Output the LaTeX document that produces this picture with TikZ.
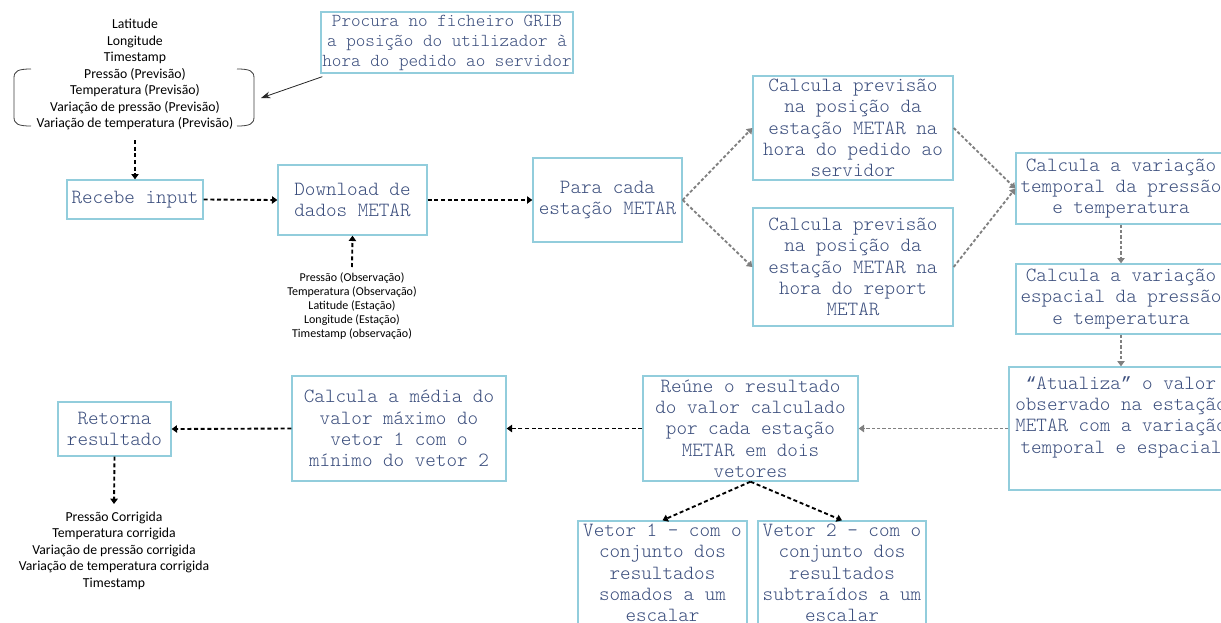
\documentclass[tikz,border=0pt]{standalone}
\usepackage{fontspec}
\usetikzlibrary{arrows.meta}
\newfontfamily\monof{Latin Modern Mono Light}
\newfontfamily\libmono{Liberation Mono}
\newfontfamily\calib{Carlito}
\definecolor{txtblue}{RGB}{59,78,125}
\definecolor{boxblue}{RGB}{146,205,220}
\definecolor{arrgray}{RGB}{128,128,128}
\tikzset{
  box/.style={draw=boxblue, line width=1pt, rectangle, inner sep=0pt, align=center,
    text=txtblue, font=\monof\fontsize{15.1}{16}\selectfont},
  smallbox/.style={box, font=\monof\fontsize{13.7}{15}\selectfont},
  lbl/.style={align=center, inner sep=0pt, text=black, font=\calib\fontsize{10.3}{12.4}\selectfont},
  lblsmall/.style={lbl, font=\calib\fontsize{9}{10.6}\selectfont},
  blk/.style={draw=black, line width=1.4pt, dash pattern=on 3pt off 2pt,
    -{Triangle[width=5.5pt,length=4pt]}},
  gry/.style={draw=arrgray, line width=1.4pt, dash pattern=on 2.4pt off 1.6pt,
    -{Triangle[width=5.5pt,length=4pt]}},
  thinarr/.style={draw=black!85, line width=0.6pt, -{Stealth[width=5pt,length=7pt]}}
}
\begin{document}
\begin{tikzpicture}[x=0.75pt,y=-0.75pt]
\useasboundingbox (0,0) rectangle (1221,622);
\clip (0,0) rectangle (1221,622);
\fill[white] (0,0) rectangle (1221,622);

% input list
\node[lbl] (inlist) at (135,74.5) {Latitude\\Longitude\\Timestamp\\Pressão (Previsão)\\Temperatura (Previsão)\\Variação de pressão (Previsão)\\Variação de temperatura (Previsão)};
\draw[black!75, line width=0.6pt] (31,69) .. controls (18,69) and (14,71) .. (14,78) -- (14,117) .. controls (14,124) and (18,126) .. (31,126);
\draw[black!75, line width=0.6pt] (237,69) .. controls (250,69) and (254,71) .. (254,78) -- (254,117) .. controls (254,124) and (250,126) .. (237,126);
\coordinate (bk) at (261,98);
\coordinate (inbot) at (135,140);

% boxes
\node[smallbox, minimum width=189pt, minimum height=45.75pt] (grib) at (447,42.5) {Procura no ficheiro GRIB\\a posição do utilizador à\\hora do pedido ao servidor};
\node[box, minimum width=102pt, minimum height=29.25pt] (recebe) at (135,199.5) {Recebe input};
\node[box, minimum width=111.75pt, minimum height=52.5pt] (download) at (352.5,200) {Download de\\dados METAR};
\node[box, minimum width=111.75pt, minimum height=63pt] (para) at (607.5,200) {Para cada\\estação METAR};
\node[box, minimum width=150pt, minimum height=78pt] (prev1) at (853,128) {Calcula previsão\\na posição da\\estação METAR na\\hora do pedido ao\\servidor};
\node[box, minimum width=150pt, minimum height=88.5pt] (prev2) at (853,267) {Calcula previsão\\na posição da\\estação METAR na\\hora do report\\METAR};
\node[box, minimum width=157.5pt, minimum height=53.25pt] (temporal) at (1121,188.5) {Calcula a variação\\temporal da pressão\\e temperatura};
\node[box, minimum width=157.5pt, minimum height=52.5pt] (espacial) at (1121,299) {Calcula a variação\\espacial da pressão\\e temperatura};
\node[box, minimum width=168pt, minimum height=92.25pt] (atualiza) at (1121,428.5) {{\libmono\fontsize{13.2}{16}\selectfont“}Atualiza{\libmono\fontsize{13.2}{16}\selectfont”} o valor\\observado na estação\\METAR com a variação\\temporal e espacial\\\strut};
\node[box, minimum width=161.25pt, minimum height=78.75pt] (reune) at (750.5,428.5) {Reúne o resultado\\do valor calculado\\por cada estação\\METAR em dois\\vetores};
\node[box, minimum width=160.5pt, minimum height=78.75pt] (media) at (399,428.5) {Calcula a média do\\valor máximo do\\vetor 1 com o\\mínimo do vetor 2};
\node[box, minimum width=84.75pt, minimum height=40.5pt] (retorna) at (114.5,429) {Retorna\\resultado};
\node[box, minimum width=126.75pt, minimum height=78pt] (vetor1) at (662.5,573) {Vetor 1 - com o\\conjunto dos\\resultados\\somados a um\\escalar};
\node[box, minimum width=126pt, minimum height=78pt] (vetor2) at (842,573) {Vetor 2 - com o\\conjunto dos\\resultados\\subtraídos a um\\escalar};

% label lists
\node[lblsmall] (obslist) at (352,306) {Pressão (Observação)\\Temperatura (Observação)\\Latitude (Estação)\\Longitude (Estação)\\Timestamp (observação)};
\coordinate (obstop) at (352,267);
\node[lbl] (outlist) at (114,550.5) {Pressão Corrigida\\Temperatura corrigida\\Variação de pressão corrigida\\Variação de temperatura corrigida\\Timestamp};
\coordinate (outtop) at (114,504);

% connectors
\draw[thinarr] ([shift={(2,3)}]grib.south west) -- (bk);
\draw[blk] (inbot) -- (recebe.north);
\draw[blk] (recebe.east) -- (download.west);
\draw[blk] (obstop) -- (download.south);
\draw[blk] (download.east) -- (para.west);
\draw[gry] (para.east) -- (prev1.west);
\draw[gry] (para.east) -- (prev2.west);
\draw[gry] (prev1.east) -- (temporal.west);
\draw[gry] (prev2.east) -- (temporal.west);
\draw[gry] (temporal.south) -- (espacial.north);
\draw[gry] (espacial.south) -- (atualiza.north);
\draw[gry] (atualiza.west) -- (reune.east);
\draw[blk] (reune.west) -- (media.east);
\draw[blk] (media.west) -- (retorna.east);
\draw[blk] (retorna.south) -- (outtop);
\draw[blk] (reune.south) -- (vetor1.north);
\draw[blk] (reune.south) -- (vetor2.north);
\end{tikzpicture}
\end{document}
